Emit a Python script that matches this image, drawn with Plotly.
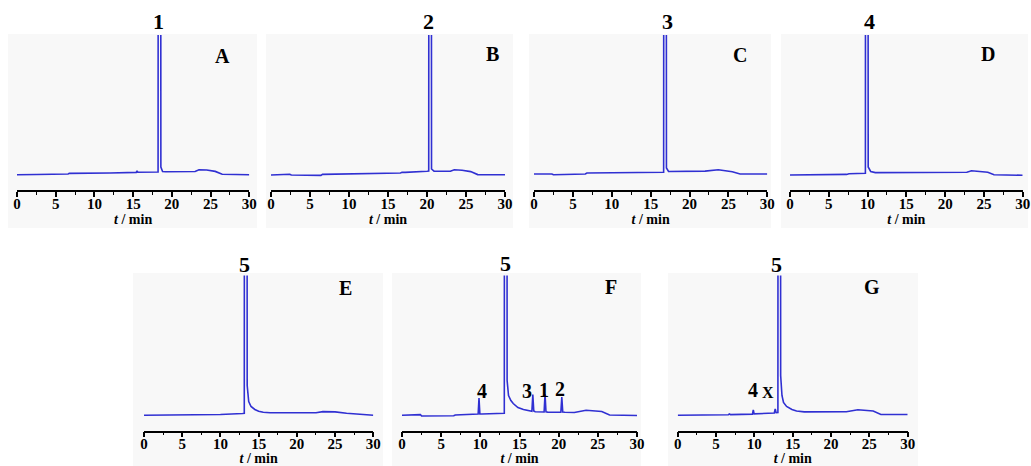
import plotly.graph_objects as go

# ---------------- data (retention time in min, detector signal in arbitrary units) -------------
t_A = [0, 2.2, 2.35, 2.5, 6.6, 6.75, 12, 15.4, 15.5, 15.6, 18.22, 18.4, 18.58, 18.8, 19.2, 23.0, 23.5, 24.5, 25.6, 26.5, 30]
y_A = [0.3, 0.6, 1.2, 0.5, 1.0, 1.6, 2.0, 2.6, 4.2, 2.8, 3.0, 3000, 8, 3.5, 3.3, 3.5, 5.3, 5.0, 3.6, 0.8, 0.2]

t_B = [0, 2.3, 2.4, 2.6, 6.4, 6.6, 12, 16.6, 16.8, 17.2, 20.0, 20.22, 20.4, 20.58, 20.9, 23.0, 23.5, 24.5, 25.6, 26.5, 30]
y_B = [0, 0.2, 0.8, 0, -0.4, 0.6, 1.2, 2.0, 2.8, 2.6, 3.8, 4.0, 3000, 6, 3.8, 3.8, 5.3, 4.8, 3.4, 0.4, 0.2]

t_C = [0, 2.3, 2.5, 6.6, 6.8, 12, 16.5, 16.67, 16.85, 17.03, 17.3, 20.0, 20.4, 22.0, 23.7, 25.5, 26.5, 30]
y_C = [1.0, 1.0, 0.2, 1.0, 2.0, 2.3, 2.7, 2.8, 3000, 7, 3.5, 3.4, 3.8, 3.9, 5.3, 3.3, 1.0, 1.0]

t_D = [0, 2.3, 2.5, 7.3, 7.6, 9.5, 9.72, 9.9, 10.08, 10.4, 11.0, 22.8, 23.4, 25.5, 26.3, 30]
y_D = [0, 0, 0.4, 0.6, 1.2, 1.7, 1.8, 3000, 8, 3.5, 2.4, 2.8, 4.3, 2.8, 0.3, -0.3]

t_E = [0, 2.3, 2.5, 6.6, 6.8, 10.0, 12.9, 13.12, 13.3, 13.5, 13.7, 14.0, 14.5, 15.0, 15.6, 16.5, 22.5, 23.4, 25.0, 26.5, 30]
y_E = [0.3, 0.3, 0.7, 0.6, 1.0, 1.0, 2.0, 2.2, 3000, 30, 14, 9, 6, 4.3, 3.3, 2.8, 2.8, 3.9, 3.6, 2.2, 0.3]

t_F = [0, 2.2, 2.35, 2.5, 6.6, 6.8, 9.5, 9.72, 9.83, 9.94, 10.2, 12.9, 13.06, 13.24, 13.42, 13.6, 13.9, 14.2, 14.8, 15.5,
       16.5, 16.58, 16.7, 16.82, 17.0, 18.14, 18.26, 18.38, 18.6, 20.28, 20.4, 20.52, 20.8, 22.0, 23.5, 25.5, 26.5, 30]
y_F = [0.3, 0.3, 0.9, -0.5, -0.3, 0.5, 1.5, 1.5, 17.5, 1.6, 1.5, 2.0, 2.2, 3000, 35, 20, 15, 12, 8, 6,
       4.2, 4.2, 21, 4.5, 3.8, 3.5, 21.5, 3.6, 3.4, 3.3, 18.5, 3.4, 3.2, 3.0, 5.3, 4.0, 0.5, 0.0]

t_G = [0, 2.2, 2.35, 2.5, 6.6, 6.75, 6.9, 9.75, 9.86, 9.97, 12.0, 12.6, 12.72, 12.84, 13.07, 13.25, 13.43, 13.6, 13.8, 14.2,
       14.9, 15.5, 16.5, 22.0, 23.5, 25.5, 26.5, 30]
y_G = [0.3, 0.3, 0.9, 0.5, 0.8, 1.5, 0.9, 1.4, 5.5, 1.6, 2.3, 2.5, 6.5, 2.8, 3.0, 3000, 40, 20, 13, 9,
       6, 4.5, 3.6, 3.8, 5.8, 4.5, 1.0, 1.0]

panel_names = ["A", "B", "C", "D", "E", "F", "G"]
main_peak_labels = ["1", "2", "3", "4", "5", "5", "5"]
x_ticks = [0, 5, 10, 15, 20, 25, 30]
x_title = "<b><i>t</i> / min</b>"

# ---------------- layout geometry (pixels) ----------------
W, H = 1031, 466
panels = [
    ("A", t_A, y_A, 17, 249.3, 0),
    ("B", t_B, y_B, 271, 505, 0),
    ("C", t_C, y_C, 534, 767.3, 0),
    ("D", t_D, y_D, 790, 1022.7, 0),
    ("E", t_E, y_E, 144, 373.3, 1),
    ("F", t_F, y_F, 402, 637, 1),
    ("G", t_G, y_G, 677.7, 907.7, 1),
]
rows_px = [(35, 190), (275.5, 430.5)]  # top px, axis px
backgrounds = [
    (8, 257, 34, 228), (266, 513, 34, 228), (529, 771, 34, 228), (781, 1028, 34, 228),
    (133, 383, 273, 466), (392, 641, 273, 466), (668, 918, 273, 466),
]

def px(x):
    return x / W

def py(y):
    return 1 - y / H

LINE = "#3030d2"
SERIF = "Liberation Serif"

fig = go.Figure()
for i, (name, t, y, x0, x1, row) in enumerate(panels):
    k = "" if i == 0 else str(i + 1)
    fig.add_trace(go.Scatter(x=t, y=y, mode="lines", line=dict(color=LINE, width=1.6),
                             xaxis="x" + k, yaxis="y" + k, showlegend=False, hoverinfo="skip"))
    top, axis = rows_px[row]
    fig.layout["xaxis" + k] = dict(
        domain=[px(x0), px(x1)], range=[0, 30], anchor="y" + k,
        showline=True, linecolor="black", linewidth=1.5, mirror=False,
        showgrid=False, zeroline=False,
        tickmode="array", tickvals=x_ticks, ticktext=["<b>%d</b>" % v for v in x_ticks],
        ticks="outside", ticklen=5, tickwidth=1.5, tickcolor="black",
        minor=dict(ticks="outside", ticklen=3, tickwidth=1.2, tickcolor="black", dtick=2.5, tick0=0, showgrid=False),
        tickfont=dict(family=SERIF, size=15, color="black"),
        ticklabelstandoff=-6,
        title=dict(text=x_title, font=dict(family=SERIF, size=14, color="black"), standoff=0),
        automargin=False, fixedrange=True,
    )
    fig.layout["yaxis" + k] = dict(
        domain=[py(axis), py(top)], range=[-15, 140], anchor="x" + k,
        visible=False, showgrid=False, zeroline=False, fixedrange=True,
    )

shapes = []
for (bx0, bx1, by0, by1) in backgrounds:
    shapes.append(dict(type="rect", xref="paper", yref="paper", x0=px(bx0), x1=px(bx1), y0=py(by1), y1=py(by0),
                       fillcolor="#f8f8f8", line=dict(width=0), layer="below"))

# annotations: (text, x px, y px, size)
labels = [
    ("1", 158, 21, 22), ("A", 222, 56, 20),
    ("2", 428, 22, 22), ("B", 492, 54, 20),
    ("3", 667, 22, 22), ("C", 740, 55, 20),
    ("4", 869, 21, 22), ("D", 988, 54, 20),
    ("5", 244, 264, 22), ("E", 345, 288, 20),
    ("5", 505, 263, 22), ("F", 611, 287, 20),
    ("4", 482, 391, 20), ("3", 527, 391, 20), ("1", 544, 390, 20), ("2", 560, 389, 20),
    ("5", 776, 264, 22), ("G", 872, 287, 20),
    ("4", 753, 390, 20), ("X", 768, 392, 16),
]
annotations = [dict(text="<b>%s</b>" % s, x=px(x), y=py(y), xref="paper", yref="paper",
                    xanchor="center", yanchor="middle", showarrow=False,
                    font=dict(family=SERIF, size=sz, color="black")) for s, x, y, sz in labels]

fig.update_layout(
    width=W, height=H, margin=dict(l=0, r=0, t=0, b=0),
    paper_bgcolor="white", plot_bgcolor="rgba(0,0,0,0)",
    shapes=shapes, annotations=annotations, showlegend=False,
)
fig.write_html("out.html", config={"displayModeBar": False},
               post_script="document.body.style.margin='0';document.body.style.padding='0';"
                           "document.body.style.overflow='hidden';")
